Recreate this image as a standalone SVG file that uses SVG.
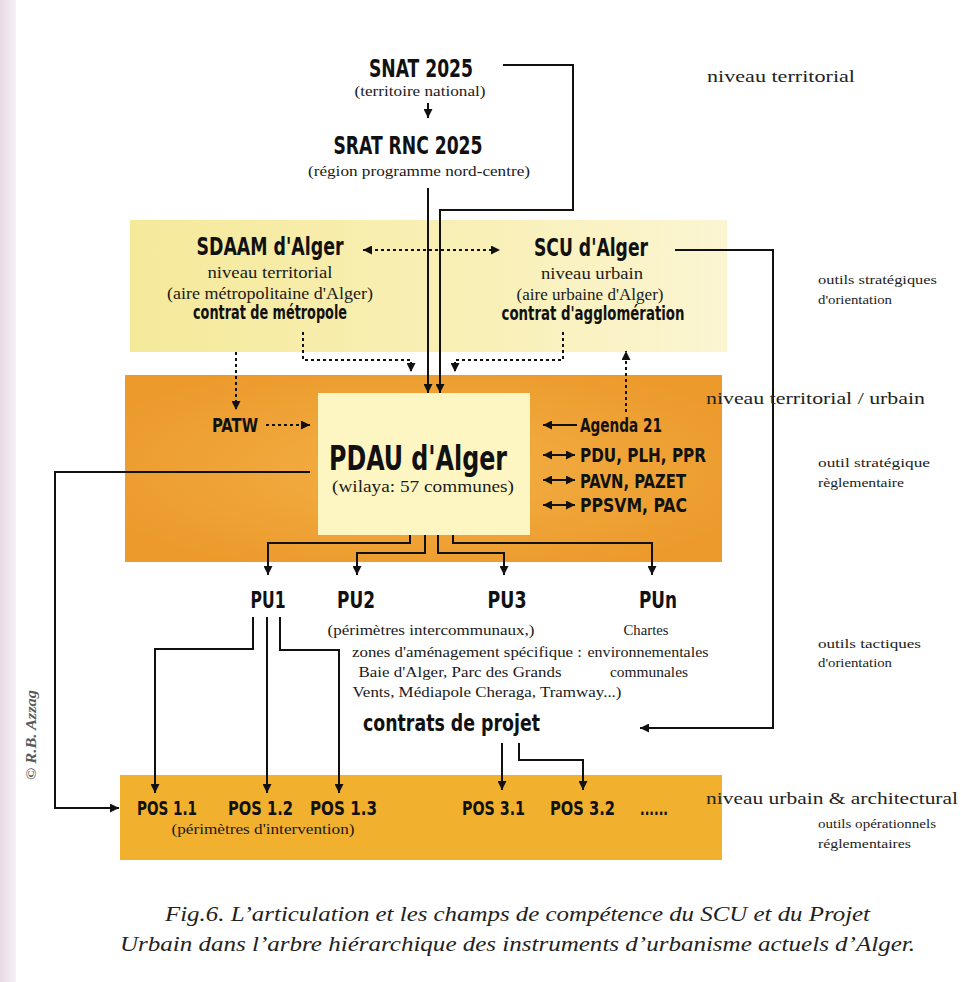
<svg xmlns="http://www.w3.org/2000/svg" width="961" height="982" viewBox="0 0 961 982">
<style>
.b{font-family:"DejaVu Sans Condensed","DejaVu Sans",sans-serif;font-stretch:condensed;font-weight:bold;fill:#111}
.s{font-family:"Liberation Serif",serif;fill:#1a1a1a}
.r{font-family:"Liberation Serif",serif;fill:#222}
.c{font-family:"Liberation Serif",serif;font-style:italic;fill:#222}
.ln{fill:none;stroke:#111;stroke-width:2}
.dt{fill:none;stroke:#111;stroke-width:2;stroke-dasharray:3 3}
</style>
<defs>
<marker id="ah" viewBox="0 0 10 10" refX="10" refY="5" markerWidth="10" markerHeight="9" markerUnits="userSpaceOnUse" orient="auto-start-reverse"><path d="M0,0 L10,5 L0,10 z" fill="#111"/></marker>
<linearGradient id="yg" x1="0" y1="0" x2="1" y2="0"><stop offset="0" stop-color="#f5e99a"/><stop offset="0.6" stop-color="#f9f0b8"/><stop offset="1" stop-color="#fbf5d2"/></linearGradient>
<radialGradient id="og" cx="0.5" cy="0.5" r="0.6"><stop offset="0" stop-color="#f3b045"/><stop offset="1" stop-color="#ec9a2c"/></radialGradient>
<linearGradient id="pg" x1="0" y1="0" x2="1" y2="0"><stop offset="0" stop-color="#e6d8e6"/><stop offset="1" stop-color="#f7f1f6"/></linearGradient>
</defs>
<rect width="961" height="982" fill="#fff"/>
<rect x="0" y="0" width="16" height="982" fill="url(#pg)"/>
<g id="bands">
<rect x="130" y="220" width="597" height="132" fill="url(#yg)"/>
<rect x="125" y="375" width="597" height="187" fill="url(#og)"/>
<rect x="120" y="775" width="602" height="85" fill="#f1b02d"/>
</g>
<g id="connectors">
<path class="ln" d="M428,103 V118" marker-end="url(#ah)"/>
<path class="ln" d="M503,65 H573 V210 H440 V393" marker-end="url(#ah)"/>
<path class="ln" d="M428,188 V393" marker-end="url(#ah)"/>
<path class="dt" d="M363,250 H500" marker-start="url(#ah)" marker-end="url(#ah)"/>
<path class="ln" d="M675,250 H773 V728 H640" marker-end="url(#ah)"/>
<path class="dt" d="M303,332 V360 H411 V372" marker-end="url(#ah)"/>
<path class="dt" d="M563,332 V360 H455 V372" marker-end="url(#ah)"/>
<path class="dt" d="M236,352 V410" marker-end="url(#ah)"/>
<path class="dt" d="M626,412 V351" marker-end="url(#ah)"/>
<path class="dt" d="M266,425 H310" marker-end="url(#ah)"/>
<path class="ln" d="M310,472 H55 V808 H119" marker-end="url(#ah)"/>
<path class="ln" d="M577,425 H543" marker-end="url(#ah)"/>
<path class="ln" d="M543,455 H575" marker-start="url(#ah)" marker-end="url(#ah)"/>
<path class="ln" d="M543,480 H575" marker-start="url(#ah)" marker-end="url(#ah)"/>
<path class="ln" d="M543,505 H575" marker-start="url(#ah)" marker-end="url(#ah)"/>
<path class="ln" d="M410,510 V543 H268 V575" marker-end="url(#ah)"/>
<path class="ln" d="M425,515 V553 H357 V575" marker-end="url(#ah)"/>
<path class="ln" d="M438,515 V553 H504 V575" marker-end="url(#ah)"/>
<path class="ln" d="M453,510 V543 H652 V575" marker-end="url(#ah)"/>
<path class="ln" d="M253,617 V649 H155 V793" marker-end="url(#ah)"/>
<path class="ln" d="M267,617 V793" marker-end="url(#ah)"/>
<path class="ln" d="M280,617 V650 H339 V793" marker-end="url(#ah)"/>
<path class="ln" d="M502,743 V790" marker-end="url(#ah)"/>
<path class="ln" d="M519,743 V760 H583 V790" marker-end="url(#ah)"/>
</g>
<g id="snat">
<text class="b" x="421" y="77" font-size="25" text-anchor="middle" textLength="104" lengthAdjust="spacingAndGlyphs">SNAT 2025</text>
<text class="s" x="420" y="96" font-size="15" text-anchor="middle" textLength="131" lengthAdjust="spacingAndGlyphs">(territoire national)</text>
</g>
<g id="srat">
<text class="b" x="408" y="154" font-size="25" text-anchor="middle" textLength="149" lengthAdjust="spacingAndGlyphs">SRAT RNC 2025</text>
<text class="s" x="419" y="176" font-size="15" text-anchor="middle" textLength="222" lengthAdjust="spacingAndGlyphs">(région programme nord-centre)</text>
</g>
<g id="sdaam">
<text class="b" x="270" y="255" font-size="24" text-anchor="middle" textLength="147" lengthAdjust="spacingAndGlyphs">SDAAM d'Alger</text>
<text class="s" x="270" y="278" font-size="16" text-anchor="middle" textLength="125" lengthAdjust="spacingAndGlyphs">niveau territorial</text>
<text class="s" x="270" y="299" font-size="16" text-anchor="middle" textLength="206" lengthAdjust="spacingAndGlyphs">(aire métropolitaine d'Alger)</text>
<text class="b" x="270" y="319" font-size="19" text-anchor="middle" textLength="154" lengthAdjust="spacingAndGlyphs">contrat de métropole</text>
</g>
<g id="scu">
<text class="b" x="591" y="256" font-size="24" text-anchor="middle" textLength="114" lengthAdjust="spacingAndGlyphs">SCU d'Alger</text>
<text class="s" x="592" y="279" font-size="16" text-anchor="middle" textLength="102" lengthAdjust="spacingAndGlyphs">niveau urbain</text>
<text class="s" x="590" y="300" font-size="16" text-anchor="middle" textLength="147" lengthAdjust="spacingAndGlyphs">(aire urbaine d'Alger)</text>
<text class="b" x="593" y="320" font-size="19" text-anchor="middle" textLength="183" lengthAdjust="spacingAndGlyphs">contrat d'agglomération</text>
</g>
<g id="patw">
<text class="b" x="212" y="432" font-size="20" textLength="46" lengthAdjust="spacingAndGlyphs">PATW</text>
</g>
<g id="pdau">
<rect x="318" y="393" width="212" height="142" fill="#fdf6c2"/>
<text class="b" x="418" y="470" font-size="34" text-anchor="middle" textLength="178" lengthAdjust="spacingAndGlyphs">PDAU d'Alger</text>
<text class="s" x="423" y="492" font-size="17" text-anchor="middle" textLength="182" lengthAdjust="spacingAndGlyphs">(wilaya: 57 communes)</text>
</g>
<g id="plans">
<text class="b" x="580" y="432" font-size="20" textLength="82" lengthAdjust="spacingAndGlyphs">Agenda 21</text>
<text class="b" x="580" y="462" font-size="20" textLength="126" lengthAdjust="spacingAndGlyphs">PDU, PLH, PPR</text>
<text class="b" x="580" y="488" font-size="20" textLength="106" lengthAdjust="spacingAndGlyphs">PAVN, PAZET</text>
<text class="b" x="580" y="512" font-size="20" textLength="107" lengthAdjust="spacingAndGlyphs">PPSVM, PAC</text>
</g>
<g id="pu1"><text class="b" x="268" y="608" font-size="23" text-anchor="middle" textLength="35" lengthAdjust="spacingAndGlyphs">PU1</text></g>
<g id="pu2">
<text class="b" x="356" y="608" font-size="23" text-anchor="middle" textLength="38" lengthAdjust="spacingAndGlyphs">PU2</text>
<text class="s" x="431" y="635" font-size="15" text-anchor="middle" textLength="207" lengthAdjust="spacingAndGlyphs">(périmètres intercommunaux,)</text>
<text class="s" x="467" y="657" font-size="15" text-anchor="middle" textLength="230" lengthAdjust="spacingAndGlyphs">zones d'aménagement spécifique :</text>
<text class="s" x="460" y="677" font-size="15" text-anchor="middle" textLength="203" lengthAdjust="spacingAndGlyphs">Baie d'Alger, Parc des Grands</text>
<text class="s" x="487" y="697" font-size="15" text-anchor="middle" textLength="269" lengthAdjust="spacingAndGlyphs">Vents, Médiapole Cheraga, Tramway...)</text>
</g>
<g id="pu3"><text class="b" x="507" y="608" font-size="23" text-anchor="middle" textLength="39" lengthAdjust="spacingAndGlyphs">PU3</text></g>
<g id="pun">
<text class="b" x="658" y="608" font-size="23" text-anchor="middle" textLength="38" lengthAdjust="spacingAndGlyphs">PUn</text>
<text class="s" x="646" y="635" font-size="15" text-anchor="middle" textLength="45" lengthAdjust="spacingAndGlyphs">Chartes</text>
<text class="s" x="648" y="657" font-size="15" text-anchor="middle" textLength="121" lengthAdjust="spacingAndGlyphs">environnementales</text>
<text class="s" x="649" y="677" font-size="15" text-anchor="middle" textLength="78" lengthAdjust="spacingAndGlyphs">communales</text>
</g>
<g id="contrats"><text class="b" x="363" y="731" font-size="23" textLength="177" lengthAdjust="spacingAndGlyphs">contrats de projet</text></g>
<g id="pos">
<text class="b" x="137" y="815" font-size="20" textLength="60" lengthAdjust="spacingAndGlyphs">POS 1.1</text>
<text class="b" x="228" y="815" font-size="20" textLength="65" lengthAdjust="spacingAndGlyphs">POS 1.2</text>
<text class="b" x="310" y="815" font-size="20" textLength="67" lengthAdjust="spacingAndGlyphs">POS 1.3</text>
<text class="s" x="263" y="834" font-size="14" text-anchor="middle" textLength="183" lengthAdjust="spacingAndGlyphs">(périmètres d'intervention)</text>
<text class="b" x="462" y="815" font-size="20" textLength="63" lengthAdjust="spacingAndGlyphs">POS 3.1</text>
<text class="b" x="550" y="815" font-size="20" textLength="65" lengthAdjust="spacingAndGlyphs">POS 3.2</text>
<text class="b" x="640" y="815" font-size="17" textLength="28" lengthAdjust="spacingAndGlyphs">......</text>
</g>
<g id="levels">
<text class="r" x="707" y="82" font-size="17" textLength="148" lengthAdjust="spacingAndGlyphs">niveau territorial</text>
<text class="r" x="818" y="284" font-size="13.5" textLength="119" lengthAdjust="spacingAndGlyphs">outils stratégiques</text>
<text class="r" x="818" y="304" font-size="13.5" textLength="74" lengthAdjust="spacingAndGlyphs">d'orientation</text>
<text class="r" x="706" y="404" font-size="17" textLength="219" lengthAdjust="spacingAndGlyphs">niveau territorial / urbain</text>
<text class="r" x="818" y="467" font-size="13.5" textLength="112" lengthAdjust="spacingAndGlyphs">outil stratégique</text>
<text class="r" x="818" y="487" font-size="13.5" textLength="86" lengthAdjust="spacingAndGlyphs">règlementaire</text>
<text class="r" x="818" y="648" font-size="13.5" textLength="103" lengthAdjust="spacingAndGlyphs">outils tactiques</text>
<text class="r" x="818" y="667" font-size="13.5" textLength="74" lengthAdjust="spacingAndGlyphs">d'orientation</text>
<text class="r" x="706" y="804" font-size="17" textLength="252" lengthAdjust="spacingAndGlyphs">niveau urbain &amp; architectural</text>
<text class="r" x="818" y="828" font-size="13.5" textLength="118" lengthAdjust="spacingAndGlyphs">outils opérationnels</text>
<text class="r" x="818" y="848" font-size="13.5" textLength="93" lengthAdjust="spacingAndGlyphs">réglementaires</text>
</g>
<g id="copyright">
<text x="0" y="0" transform="translate(36,735) rotate(-90)" font-family="Liberation Serif,serif" font-style="italic" font-weight="bold" font-size="14" fill="#5a5a5a" text-anchor="middle" textLength="90" lengthAdjust="spacingAndGlyphs">© R.B. Azzag</text>
</g>
<g id="caption">
<text class="c" x="165" y="921" font-size="21" textLength="705" lengthAdjust="spacingAndGlyphs">Fig.6. L’articulation et les champs de compétence du SCU et du Projet</text>
<text class="c" x="120" y="951" font-size="21" textLength="795" lengthAdjust="spacingAndGlyphs">Urbain dans l’arbre hiérarchique des instruments d’urbanisme actuels d’Alger.</text>
</g>
</svg>
